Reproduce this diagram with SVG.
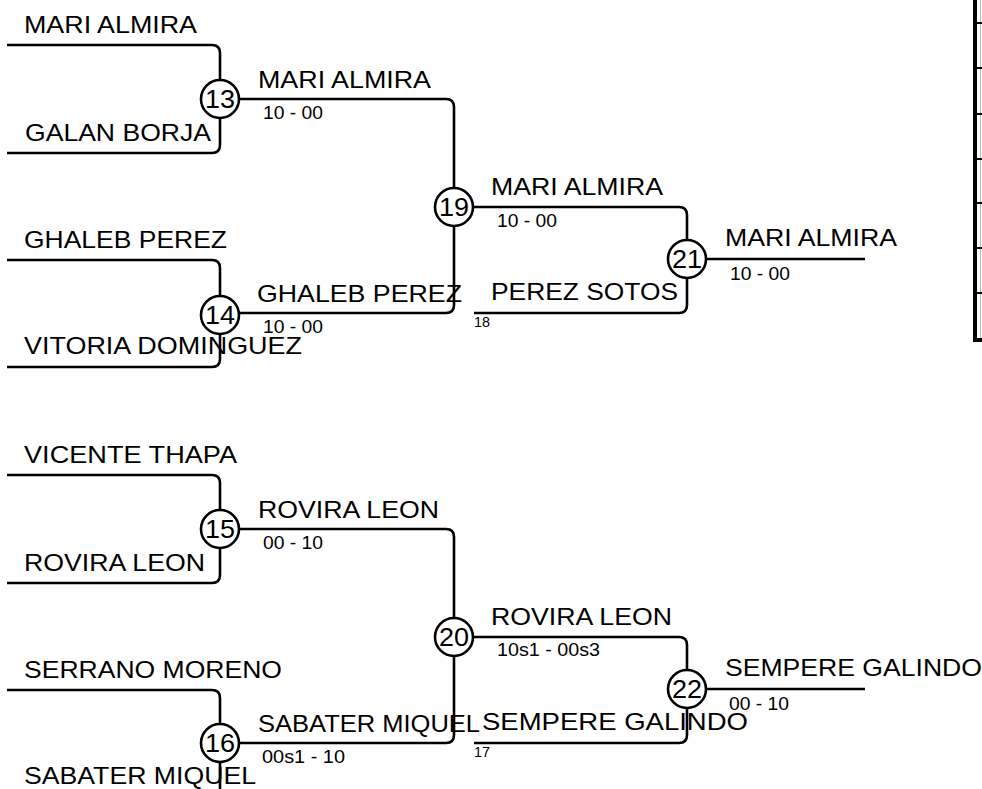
<svg xmlns="http://www.w3.org/2000/svg" width="982" height="789" viewBox="0 0 982 789">
<style>
.ln{fill:none;stroke:#000;stroke-width:2.6;stroke-linecap:butt}
.c{fill:#fff;stroke:#000;stroke-width:2.6}
text{font-family:"Liberation Sans",Arial,sans-serif;fill:#000}
.n{font-size:24px}
.s{font-size:18px}
.t{font-size:14px}
.num{font-size:25px;text-anchor:middle}
.tb{fill:none;stroke:#000}
</style>
<rect width="982" height="789" fill="#fff"/>
<g id="connectors">
<path class="ln" d="M7,45 H212 Q220,45 220,53 V80"/>
<path class="ln" d="M7,153 H212 Q220,153 220,145 V118"/>
<path class="ln" d="M7,260 H212 Q220,260 220,268 V296"/>
<path class="ln" d="M7,367 H212 Q220,367 220,359 V334"/>
<path class="ln" d="M239,99 H446 Q454,99 454,107 V188"/>
<path class="ln" d="M239,313 H446 Q454,313 454,305 V226"/>
<path class="ln" d="M473,207 H679 Q687,207 687,215 V240"/>
<path class="ln" d="M474,313 H679 Q687,313 687,305 V278"/>
<path class="ln" d="M706,259 H865"/>
<path class="ln" d="M7,475 H212 Q220,475 220,483 V510"/>
<path class="ln" d="M7,583 H212 Q220,583 220,575 V548"/>
<path class="ln" d="M7,690 H212 Q220,690 220,698 V724"/>
<path class="ln" d="M7,797 H212 Q220,797 220,789 V762"/>
<path class="ln" d="M239,529 H446 Q454,529 454,537 V618"/>
<path class="ln" d="M239,743 H446 Q454,743 454,735 V656"/>
<path class="ln" d="M473,637 H679 Q687,637 687,645 V670"/>
<path class="ln" d="M474,743 H679 Q687,743 687,735 V708"/>
<path class="ln" d="M706,689 H865"/>
</g>
<g id="entrants">
<text class="n" x="24" y="33" textLength="173" lengthAdjust="spacingAndGlyphs">MARI ALMIRA</text>
<text class="n" x="25" y="141" textLength="186" lengthAdjust="spacingAndGlyphs">GALAN BORJA</text>
<text class="n" x="24" y="248" textLength="203" lengthAdjust="spacingAndGlyphs">GHALEB PEREZ</text>
<text class="n" x="24" y="354" textLength="278" lengthAdjust="spacingAndGlyphs">VITORIA DOMINGUEZ</text>
<text class="n" x="24" y="463" textLength="213" lengthAdjust="spacingAndGlyphs">VICENTE THAPA</text>
<text class="n" x="24" y="571" textLength="181" lengthAdjust="spacingAndGlyphs">ROVIRA LEON</text>
<text class="n" x="24" y="678" textLength="258" lengthAdjust="spacingAndGlyphs">SERRANO MORENO</text>
<text class="n" x="24" y="784" textLength="232" lengthAdjust="spacingAndGlyphs">SABATER MIQUEL</text>
</g>
<g id="m13">
<circle class="c" cx="220" cy="99" r="19"/>
<text class="num" x="220" y="108" textLength="30" lengthAdjust="spacingAndGlyphs">13</text>
<text class="n" x="258" y="88" textLength="173" lengthAdjust="spacingAndGlyphs">MARI ALMIRA</text>
<text class="s" x="263" y="119" textLength="60" lengthAdjust="spacingAndGlyphs">10 - 00</text>
</g>
<g id="m14">
<circle class="c" cx="220" cy="315" r="19"/>
<text class="num" x="220" y="324" textLength="30" lengthAdjust="spacingAndGlyphs">14</text>
<text class="n" x="257" y="302" textLength="205" lengthAdjust="spacingAndGlyphs">GHALEB PEREZ</text>
<text class="s" x="263" y="333" textLength="60" lengthAdjust="spacingAndGlyphs">10 - 00</text>
</g>
<g id="m19">
<circle class="c" cx="454" cy="207" r="19"/>
<text class="num" x="454" y="216" textLength="30" lengthAdjust="spacingAndGlyphs">19</text>
<text class="n" x="491" y="195" textLength="172" lengthAdjust="spacingAndGlyphs">MARI ALMIRA</text>
<text class="s" x="497" y="227" textLength="60" lengthAdjust="spacingAndGlyphs">10 - 00</text>
</g>
<g id="m18">
<text class="n" x="491" y="300" textLength="187" lengthAdjust="spacingAndGlyphs">PEREZ SOTOS</text>
<text class="t" x="474" y="327" textLength="16" lengthAdjust="spacingAndGlyphs">18</text>
</g>
<g id="m21">
<circle class="c" cx="687" cy="259" r="19"/>
<text class="num" x="687" y="268" textLength="30" lengthAdjust="spacingAndGlyphs">21</text>
<text class="n" x="725" y="246" textLength="172" lengthAdjust="spacingAndGlyphs">MARI ALMIRA</text>
<text class="s" x="730" y="280" textLength="60" lengthAdjust="spacingAndGlyphs">10 - 00</text>
</g>
<g id="m15">
<circle class="c" cx="220" cy="529" r="19"/>
<text class="num" x="220" y="538" textLength="30" lengthAdjust="spacingAndGlyphs">15</text>
<text class="n" x="258" y="518" textLength="181" lengthAdjust="spacingAndGlyphs">ROVIRA LEON</text>
<text class="s" x="263" y="549" textLength="60" lengthAdjust="spacingAndGlyphs">00 - 10</text>
</g>
<g id="m16">
<circle class="c" cx="220" cy="743" r="19"/>
<text class="num" x="220" y="752" textLength="30" lengthAdjust="spacingAndGlyphs">16</text>
<text class="n" x="258" y="732" textLength="222" lengthAdjust="spacingAndGlyphs">SABATER MIQUEL</text>
<text class="s" x="262" y="763" textLength="83" lengthAdjust="spacingAndGlyphs">00s1 - 10</text>
</g>
<g id="m20">
<circle class="c" cx="454" cy="637" r="19"/>
<text class="num" x="454" y="646" textLength="30" lengthAdjust="spacingAndGlyphs">20</text>
<text class="n" x="491" y="625" textLength="181" lengthAdjust="spacingAndGlyphs">ROVIRA LEON</text>
<text class="s" x="497" y="656" textLength="103" lengthAdjust="spacingAndGlyphs">10s1 - 00s3</text>
</g>
<g id="m17">
<text class="n" x="482" y="730" textLength="266" lengthAdjust="spacingAndGlyphs">SEMPERE GALINDO</text>
<text class="t" x="474" y="757" textLength="16" lengthAdjust="spacingAndGlyphs">17</text>
</g>
<g id="m22">
<circle class="c" cx="687" cy="689" r="19"/>
<text class="num" x="687" y="698" textLength="30" lengthAdjust="spacingAndGlyphs">22</text>
<text class="n" x="725" y="676" textLength="257" lengthAdjust="spacingAndGlyphs">SEMPERE GALINDO</text>
<text class="s" x="729" y="710" textLength="60" lengthAdjust="spacingAndGlyphs">00 - 10</text>
</g>
<g id="table">
<line x1="980.5" y1="0" x2="980.5" y2="338" stroke="#bbb" stroke-width="1"/>
<line class="tb" x1="975" y1="-2" x2="975" y2="342" stroke-width="4"/>
<line class="tb" x1="973" y1="340" x2="982" y2="340" stroke-width="4"/>
<g class="tb" stroke-width="2">
<line x1="977" y1="23" x2="982" y2="23"/>
<line x1="977" y1="68" x2="982" y2="68"/>
<line x1="977" y1="114" x2="982" y2="114"/>
<line x1="977" y1="159" x2="982" y2="159"/>
<line x1="977" y1="203" x2="982" y2="203"/>
<line x1="977" y1="248" x2="982" y2="248"/>
<line x1="977" y1="293" x2="982" y2="293"/>
</g>
</g>
</svg>
